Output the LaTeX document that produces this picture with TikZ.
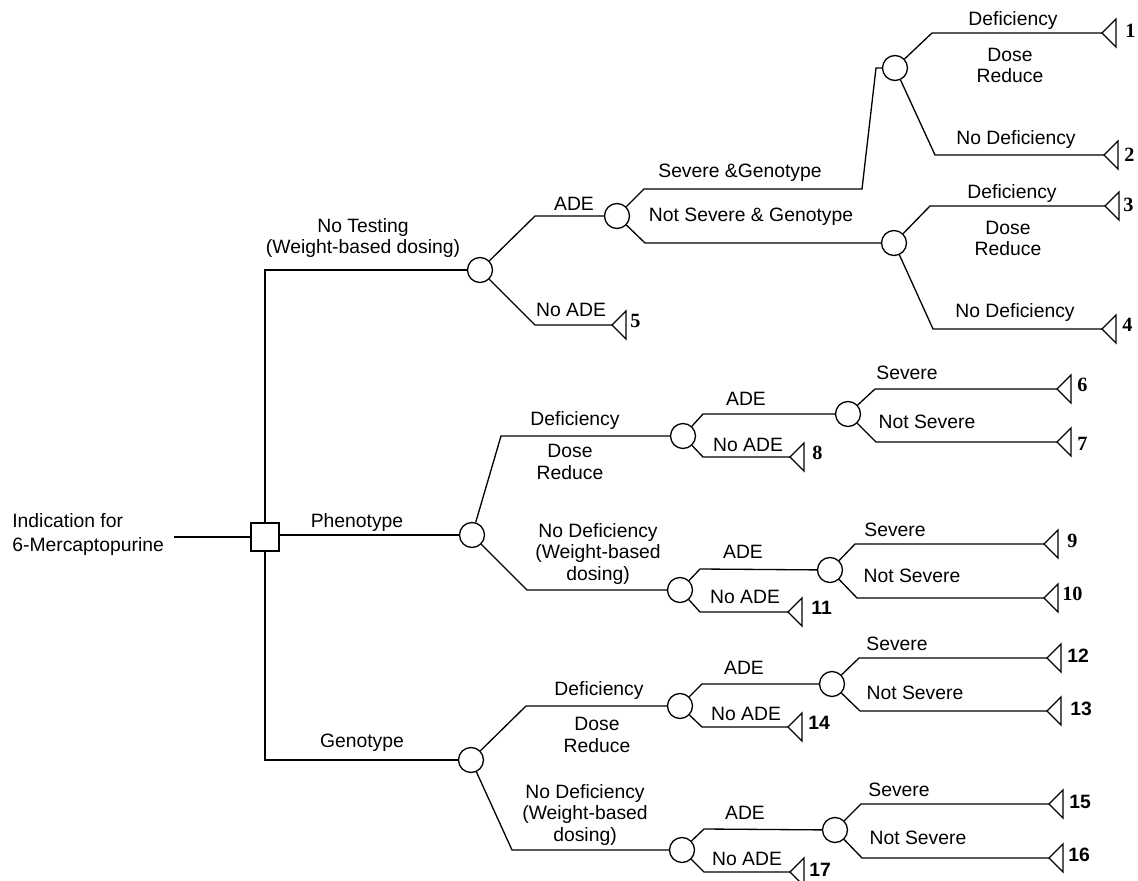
\documentclass[tikz,border=0pt]{standalone}
\usepackage{fontspec}
\setmainfont{Liberation Sans}
\newfontfamily\numserif{Liberation Serif}
\begin{document}
\begin{tikzpicture}[x=0.02cm,y=-0.02cm,
 edge/.style={line width=0.75pt,black},
 chance/.style={circle,draw,line width=0.75pt,minimum size=0.5cm,inner sep=0pt,fill=white},
 decision/.style={rectangle,draw,line width=0.75pt,minimum size=0.56cm,inner sep=0pt,fill=white},
 lbl/.style={inner sep=0pt,anchor=base,align=center,font=\fontsize{11}{12}\selectfont},
 numA/.style={inner sep=0pt,anchor=base west,font=\numserif\bfseries\fontsize{11.5}{12}\selectfont},
 numB/.style={inner sep=0pt,anchor=base west,font=\bfseries\fontsize{11}{12}\selectfont},
]
\newcommand\termnode[3]{\coordinate (#1) at (#2,#3); \draw[edge] (#1) -- ++(14,-14) -- ++(0,28) -- cycle;}
\useasboundingbox (0,0) rectangle (1138,881);

% ---------- nodes ----------
\node[decision] (dec) at (265,537) {};
\node[chance] (nt) at (480,270) {};
\node[chance] (ade) at (617,216) {};
\node[chance] (sg) at (895,68) {};
\node[chance] (nsg) at (894,243) {};
\node[chance] (ph) at (472,535) {};
\node[chance] (phd) at (683,436) {};
\node[chance] (phdade) at (848,414) {};
\node[chance] (phn) at (680,590) {};
\node[chance] (phnade) at (830,570) {};
\node[chance] (ge) at (471,760) {};
\node[chance] (ged) at (680,706) {};
\node[chance] (gedade) at (832,684) {};
\node[chance] (gen) at (682,850) {};
\node[chance] (genade) at (835,830) {};

\termnode{t1}{1102}{33}
\termnode{t2}{1104}{155}
\termnode{t3}{1105}{206}
\termnode{t4}{1102}{329}
\termnode{t5}{612}{325}
\termnode{t6}{1057}{389}
\termnode{t7}{1057}{442}
\termnode{t8}{790}{457}
\termnode{t9}{1044}{544}
\termnode{t10}{1044}{598}
\termnode{t11}{788}{612}
\termnode{t12}{1047}{658}
\termnode{t13}{1047}{711}
\termnode{t14}{788}{727}
\termnode{t15}{1049}{804}
\termnode{t16}{1049}{858}
\termnode{t17}{790}{872}

\coordinate (start) at (174,537);

% ---------- connectors ----------
\draw[edge] (start) -- (dec);
\draw[edge] (dec) |- (nt);
\draw[edge] (dec.east |- ph.west) -- (ph);
\draw[edge] (dec) |- (ge);

\draw[edge] (nt) -- (535,216) -- (ade);
\draw[edge] (nt) -- (535,325) -- (t5);
\draw[edge] (ade) -- (644,189) -- (862,189) -- (876,68) -- (sg);
\draw[edge] (ade) -- (645,243) -- (nsg);
\draw[edge] (sg) -- (932,33) -- (t1);
\draw[edge] (sg) -- (935,155) -- (t2);
\draw[edge] (nsg) -- (930,206) -- (t3);
\draw[edge] (nsg) -- (933,329) -- (t4);

\draw[edge] (ph) -- (501,436) -- (phd);
\draw[edge] (ph) -- (527,590) -- (phn);
\draw[edge] (phd) -- (703,414) -- (phdade);
\draw[edge] (phd) -- (703,457) -- (t8);
\draw[edge] (phdade) -- (875,389) -- (t6);
\draw[edge] (phdade) -- (876,442) -- (t7);
\draw[edge] (phn) -- (700,569) -- (phnade);
\draw[edge] (phn) -- (700,612) -- (t11);
\draw[edge] (phnade) -- (855,544) -- (t9);
\draw[edge] (phnade) -- (857,598) -- (t10);

\draw[edge] (ge) -- (526,706) -- (ged);
\draw[edge] (ge) -- (512,850) -- (gen);
\draw[edge] (ged) -- (702,684) -- (gedade);
\draw[edge] (ged) -- (702,727) -- (t14);
\draw[edge] (gedade) -- (859,658) -- (t12);
\draw[edge] (gedade) -- (860,711) -- (t13);
\draw[edge] (gen) -- (704,829) -- (genade);
\draw[edge] (gen) -- (704,872) -- (t17);
\draw[edge] (genade) -- (861,804) -- (t15);
\draw[edge] (genade) -- (862,858) -- (t16);

% ---------- labels (y = baseline of last line) ----------
\node[inner sep=0pt,anchor=base west,align=left,font=\fontsize{11}{13.6}\selectfont] (lroot) at (12,551) {Indication for\\6-Mercaptopurine};
\node[lbl] (lNT) at (363,254) {No Testing\\(Weight-based dosing)};
\node[lbl] (lADE1) at (574,211) {ADE};
\node[lbl] (lNoADE1) at (571,317) {No ADE};
\node[lbl] (lSG) at (740,178) {Severe \&Genotype};
\node[lbl] (lNSG) at (751,222) {Not Severe \& Genotype};
\node[lbl] (lDef1) at (1013,26) {Deficiency};
\node[lbl] (lDR1) at (1010,83) {Dose\\Reduce};
\node[lbl] (lND1) at (1016,145) {No Deficiency};
\node[lbl] (lDef2) at (1012,199) {Deficiency};
\node[lbl] (lDR2) at (1008,256) {Dose\\Reduce};
\node[lbl] (lND2) at (1015,318) {No Deficiency};

\node[lbl] (lPh) at (357,527) {Phenotype};
\node[lbl] (lPhD) at (575,425) {Deficiency};
\node[lbl] (lPhDR) at (570,479) {Dose\\Reduce};
\node[lbl] (lPhN) at (598,580) {No Deficiency\\(Weight-based\\dosing)};
\node[lbl] (lADE2) at (746,405) {ADE};
\node[lbl] (lNoADE2) at (748,451) {No ADE};
\node[lbl] (lSev1) at (907,379) {Severe};
\node[lbl] (lNS1) at (927,428) {Not Severe};
\node[lbl] (lADE3) at (743,558) {ADE};
\node[lbl] (lNoADE3) at (745,603) {No ADE};
\node[lbl] (lSev2) at (895,536) {Severe};
\node[lbl] (lNS2) at (912,582) {Not Severe};

\node[lbl] (lGe) at (362,747) {Genotype};
\node[lbl] (lGeD) at (599,695) {Deficiency};
\node[lbl] (lGeDR) at (597,752) {Dose\\Reduce};
\node[lbl] (lGeN) at (585,841) {No Deficiency\\(Weight-based\\dosing)};
\node[lbl] (lADE4) at (744,674) {ADE};
\node[lbl] (lNoADE4) at (746,720) {No ADE};
\node[lbl] (lSev3) at (897,650) {Severe};
\node[lbl] (lNS3) at (915,699) {Not Severe};
\node[lbl] (lADE5) at (745,819) {ADE};
\node[lbl] (lNoADE5) at (747,865) {No ADE};
\node[lbl] (lSev4) at (899,796) {Severe};
\node[lbl] (lNS4) at (918,844) {Not Severe};

% ---------- outcome numbers ----------
\node[numA] (n1) at (1125,38) {1};
\node[numA] (n2) at (1124,162) {2};
\node[numA] (n3) at (1123,212) {3};
\node[numA] (n4) at (1122,332) {4};
\node[numA] (n5) at (630,328) {5};
\node[numA] (n6) at (1077,392) {6};
\node[numA] (n7) at (1077,450) {7};
\node[numA] (n8) at (812,459) {8};
\node[numA] (n9) at (1067,547) {9};
\node[numA] (n10) at (1062,600) {10};
\node[numB] (n11) at (811,614) {11};
\node[numB] (n12) at (1067,662) {12};
\node[numB] (n13) at (1070,715) {13};
\node[numB] (n14) at (808,729) {14};
\node[numB] (n15) at (1069,808) {15};
\node[numB] (n16) at (1068,861) {16};
\node[numB] (n17) at (809,876) {17};
\end{tikzpicture}
\end{document}
